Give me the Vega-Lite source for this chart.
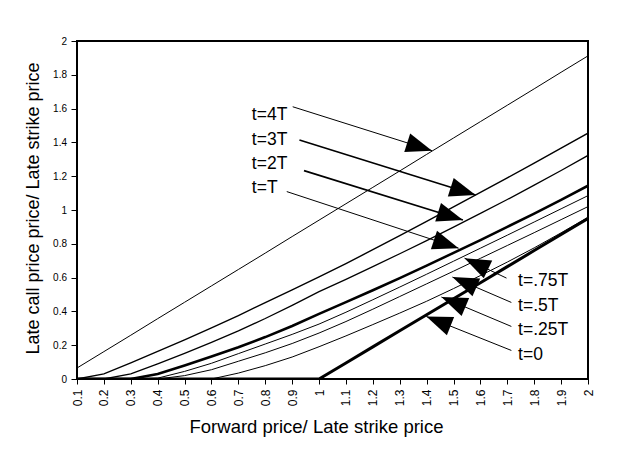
{
  "$schema": "https://vega.github.io/schema/vega-lite/v6.json",
  "width": 511,
  "height": 338,
  "autosize": {"type": "none"},
  "padding": {"left": 77, "top": 41, "right": 48, "bottom": 77},
  "background": "white",
  "config": {
    "view": {"stroke": "#000", "strokeWidth": 2},
    "font": "Liberation Sans",
    "axis": {"labelColor": "#000", "tickColor": "#000", "titleColor": "#000", "titleFontWeight": "normal", "grid": false, "domain": false, "labelFont": "Liberation Sans", "titleFont": "Liberation Sans"}
  },
  "datasets": {
    "curves": [
      {"s":"t=4T","x":0.1,"y":0.065},{"s":"t=4T","x":0.2,"y":0.162},{"s":"t=4T","x":0.3,"y":0.259},{"s":"t=4T","x":0.4,"y":0.357},{"s":"t=4T","x":0.5,"y":0.454},{"s":"t=4T","x":0.6,"y":0.551},{"s":"t=4T","x":0.7,"y":0.648},{"s":"t=4T","x":0.8,"y":0.745},{"s":"t=4T","x":0.9,"y":0.843},{"s":"t=4T","x":1.0,"y":0.94},{"s":"t=4T","x":1.1,"y":1.037},{"s":"t=4T","x":1.2,"y":1.134},{"s":"t=4T","x":1.3,"y":1.231},{"s":"t=4T","x":1.4,"y":1.329},{"s":"t=4T","x":1.5,"y":1.426},{"s":"t=4T","x":1.6,"y":1.523},{"s":"t=4T","x":1.7,"y":1.62},{"s":"t=4T","x":1.8,"y":1.717},{"s":"t=4T","x":1.9,"y":1.815},{"s":"t=4T","x":2.0,"y":1.912},
      {"s":"t=3T","x":0.1,"y":0},{"s":"t=3T","x":0.2,"y":0.03},{"s":"t=3T","x":0.3,"y":0.095},{"s":"t=3T","x":0.4,"y":0.163},{"s":"t=3T","x":0.5,"y":0.232},{"s":"t=3T","x":0.6,"y":0.303},{"s":"t=3T","x":0.7,"y":0.375},{"s":"t=3T","x":0.8,"y":0.452},{"s":"t=3T","x":0.9,"y":0.527},{"s":"t=3T","x":1.0,"y":0.604},{"s":"t=3T","x":1.1,"y":0.683},{"s":"t=3T","x":1.2,"y":0.765},{"s":"t=3T","x":1.3,"y":0.849},{"s":"t=3T","x":1.4,"y":0.933},{"s":"t=3T","x":1.5,"y":1.018},{"s":"t=3T","x":1.6,"y":1.104},{"s":"t=3T","x":1.7,"y":1.19},{"s":"t=3T","x":1.8,"y":1.277},{"s":"t=3T","x":1.9,"y":1.366},{"s":"t=3T","x":2.0,"y":1.455},
      {"s":"t=2T","x":0.1,"y":0},{"s":"t=2T","x":0.2,"y":0},{"s":"t=2T","x":0.3,"y":0.03},{"s":"t=2T","x":0.4,"y":0.09},{"s":"t=2T","x":0.5,"y":0.152},{"s":"t=2T","x":0.6,"y":0.217},{"s":"t=2T","x":0.7,"y":0.285},{"s":"t=2T","x":0.8,"y":0.358},{"s":"t=2T","x":0.9,"y":0.436},{"s":"t=2T","x":1.0,"y":0.517},{"s":"t=2T","x":1.1,"y":0.59},{"s":"t=2T","x":1.2,"y":0.665},{"s":"t=2T","x":1.3,"y":0.741},{"s":"t=2T","x":1.4,"y":0.819},{"s":"t=2T","x":1.5,"y":0.899},{"s":"t=2T","x":1.6,"y":0.98},{"s":"t=2T","x":1.7,"y":1.062},{"s":"t=2T","x":1.8,"y":1.147},{"s":"t=2T","x":1.9,"y":1.234},{"s":"t=2T","x":2.0,"y":1.323},
      {"s":"t=T","x":0.1,"y":0},{"s":"t=T","x":0.2,"y":0},{"s":"t=T","x":0.3,"y":0},{"s":"t=T","x":0.4,"y":0.03},{"s":"t=T","x":0.5,"y":0.08},{"s":"t=T","x":0.6,"y":0.133},{"s":"t=T","x":0.7,"y":0.188},{"s":"t=T","x":0.8,"y":0.248},{"s":"t=T","x":0.9,"y":0.314},{"s":"t=T","x":1.0,"y":0.385},{"s":"t=T","x":1.1,"y":0.455},{"s":"t=T","x":1.2,"y":0.525},{"s":"t=T","x":1.3,"y":0.597},{"s":"t=T","x":1.4,"y":0.671},{"s":"t=T","x":1.5,"y":0.746},{"s":"t=T","x":1.6,"y":0.822},{"s":"t=T","x":1.7,"y":0.9},{"s":"t=T","x":1.8,"y":0.979},{"s":"t=T","x":1.9,"y":1.06},{"s":"t=T","x":2.0,"y":1.144},
      {"s":"t=.75T","x":0.1,"y":0},{"s":"t=.75T","x":0.2,"y":0},{"s":"t=.75T","x":0.3,"y":0},{"s":"t=.75T","x":0.4,"y":0.005},{"s":"t=.75T","x":0.5,"y":0.045},{"s":"t=.75T","x":0.6,"y":0.093},{"s":"t=.75T","x":0.7,"y":0.15},{"s":"t=.75T","x":0.8,"y":0.207},{"s":"t=.75T","x":0.9,"y":0.264},{"s":"t=.75T","x":1.0,"y":0.325},{"s":"t=.75T","x":1.1,"y":0.395},{"s":"t=.75T","x":1.2,"y":0.469},{"s":"t=.75T","x":1.3,"y":0.544},{"s":"t=.75T","x":1.4,"y":0.62},{"s":"t=.75T","x":1.5,"y":0.697},{"s":"t=.75T","x":1.6,"y":0.774},{"s":"t=.75T","x":1.7,"y":0.851},{"s":"t=.75T","x":1.8,"y":0.929},{"s":"t=.75T","x":1.9,"y":1.007},{"s":"t=.75T","x":2.0,"y":1.085},
      {"s":"t=.5T","x":0.1,"y":0},{"s":"t=.5T","x":0.2,"y":0},{"s":"t=.5T","x":0.3,"y":0},{"s":"t=.5T","x":0.4,"y":0},{"s":"t=.5T","x":0.5,"y":0.02},{"s":"t=.5T","x":0.6,"y":0.055},{"s":"t=.5T","x":0.7,"y":0.105},{"s":"t=.5T","x":0.8,"y":0.155},{"s":"t=.5T","x":0.9,"y":0.21},{"s":"t=.5T","x":1.0,"y":0.272},{"s":"t=.5T","x":1.1,"y":0.34},{"s":"t=.5T","x":1.2,"y":0.413},{"s":"t=.5T","x":1.3,"y":0.488},{"s":"t=.5T","x":1.4,"y":0.563},{"s":"t=.5T","x":1.5,"y":0.638},{"s":"t=.5T","x":1.6,"y":0.714},{"s":"t=.5T","x":1.7,"y":0.79},{"s":"t=.5T","x":1.8,"y":0.866},{"s":"t=.5T","x":1.9,"y":0.943},{"s":"t=.5T","x":2.0,"y":1.02},
      {"s":"t=.25T","x":0.1,"y":0},{"s":"t=.25T","x":0.2,"y":0},{"s":"t=.25T","x":0.3,"y":0},{"s":"t=.25T","x":0.4,"y":0},{"s":"t=.25T","x":0.5,"y":0},{"s":"t=.25T","x":0.6,"y":0},{"s":"t=.25T","x":0.7,"y":0.035},{"s":"t=.25T","x":0.8,"y":0.079},{"s":"t=.25T","x":0.9,"y":0.13},{"s":"t=.25T","x":1.0,"y":0.191},{"s":"t=.25T","x":1.1,"y":0.255},{"s":"t=.25T","x":1.2,"y":0.322},{"s":"t=.25T","x":1.3,"y":0.39},{"s":"t=.25T","x":1.4,"y":0.46},{"s":"t=.25T","x":1.5,"y":0.535},{"s":"t=.25T","x":1.6,"y":0.612},{"s":"t=.25T","x":1.7,"y":0.692},{"s":"t=.25T","x":1.8,"y":0.776},{"s":"t=.25T","x":1.9,"y":0.865},{"s":"t=.25T","x":2.0,"y":0.957},
      {"s":"t=0","x":0.1,"y":0},{"s":"t=0","x":0.2,"y":0},{"s":"t=0","x":0.3,"y":0},{"s":"t=0","x":0.4,"y":0},{"s":"t=0","x":0.5,"y":0},{"s":"t=0","x":0.6,"y":0},{"s":"t=0","x":0.7,"y":0},{"s":"t=0","x":0.8,"y":0},{"s":"t=0","x":0.9,"y":0},{"s":"t=0","x":1.0,"y":0},{"s":"t=0","x":1.1,"y":0.095},{"s":"t=0","x":1.2,"y":0.19},{"s":"t=0","x":1.3,"y":0.285},{"s":"t=0","x":1.4,"y":0.38},{"s":"t=0","x":1.5,"y":0.475},{"s":"t=0","x":1.6,"y":0.57},{"s":"t=0","x":1.7,"y":0.665},{"s":"t=0","x":1.8,"y":0.76},{"s":"t=0","x":1.9,"y":0.855},{"s":"t=0","x":2.0,"y":0.95}
    ],
    "arrows": [
      {"label":"t=4T","part":"start","x":0.902,"y":1.611},{"label":"t=4T","part":"tip","x":1.42,"y":1.351},
      {"label":"t=3T","part":"start","x":0.927,"y":1.414},{"label":"t=3T","part":"tip","x":1.582,"y":1.089},
      {"label":"t=2T","part":"start","x":0.944,"y":1.233},{"label":"t=2T","part":"tip","x":1.535,"y":0.941},
      {"label":"t=T","part":"start","x":0.88,"y":1.109},{"label":"t=T","part":"tip","x":1.519,"y":0.774},
      {"label":"t=.75T","part":"start","x":1.697,"y":0.597},{"label":"t=.75T","part":"tip","x":1.541,"y":0.715},
      {"label":"t=.5T","part":"start","x":1.715,"y":0.453},{"label":"t=.5T","part":"tip","x":1.496,"y":0.603},
      {"label":"t=.25T","part":"start","x":1.715,"y":0.311},{"label":"t=.25T","part":"tip","x":1.455,"y":0.485},
      {"label":"t=0","part":"start","x":1.715,"y":0.169},{"label":"t=0","part":"tip","x":1.399,"y":0.37}
    ],
    "labels": [
      {"label":"t=4T","x":0.75,"y":1.562},
      {"label":"t=3T","x":0.75,"y":1.414},
      {"label":"t=2T","x":0.75,"y":1.273},
      {"label":"t=T","x":0.75,"y":1.129},
      {"label":"t=.75T","x":1.74,"y":0.577},
      {"label":"t=.5T","x":1.74,"y":0.433},
      {"label":"t=.25T","x":1.74,"y":0.291},
      {"label":"t=0","x":1.74,"y":0.144}
    ]
  },
  "resolve": {"scale": {"strokeWidth": "independent"}},
  "layer": [
    {
      "data": {"name": "curves"},
      "mark": {"type": "line", "color": "#000", "interpolate": "linear", "clip": true},
      "encoding": {
        "x": {
          "field": "x", "type": "quantitative",
          "scale": {"domain": [0.1, 2], "nice": false, "zero": false},
          "axis": {
            "values": [0.1,0.2,0.3,0.4,0.5,0.6,0.7,0.8,0.9,1,1.1,1.2,1.3,1.4,1.5,1.6,1.7,1.8,1.9,2],
            "tickCount": 40,
            "format": ".1~f", "labelAngle": -90, "labelFontSize": 12, "labelPadding": 5, "tickSize": 5,
            "labelOverlap": false, "labelFlush": false,
            "title": "Forward price/ Late strike price", "titleFontSize": 18.5,
            "titleX": 239, "titleY": 53, "titleAlign": "center", "titleBaseline": "alphabetic"
          }
        },
        "y": {
          "field": "y", "type": "quantitative",
          "scale": {"domain": [0, 2], "nice": false},
          "axis": {
            "values": [0,0.2,0.4,0.6,0.8,1,1.2,1.4,1.6,1.8,2],
            "tickCount": 40,
            "format": ".1~f", "labelFontSize": 10, "labelPadding": 4.5, "tickSize": 6,
            "labelOverlap": false, "labelFlush": false,
            "title": "Late call price price/ Late strike price", "titleFontSize": 18,
            "titleX": -39, "titleY": 167, "titleAngle": -90, "titleAlign": "center", "titleBaseline": "alphabetic"
          }
        },
        "detail": {"field": "s", "type": "nominal"},
        "strokeWidth": {
          "field": "s", "type": "nominal",
          "scale": {"type": "ordinal", "domain": ["t=4T","t=3T","t=2T","t=T","t=.75T","t=.5T","t=.25T","t=0"], "range": [1, 1.4, 1.3, 2.6, 1, 1, 1, 3]},
          "legend": null
        }
      }
    },
    {
      "data": {"name": "arrows"},
      "mark": {"type": "line", "color": "#000"},
      "encoding": {
        "x": {"field": "x", "type": "quantitative"},
        "y": {"field": "y", "type": "quantitative"},
        "detail": {"field": "label", "type": "nominal"},
        "strokeWidth": {
          "field": "label", "type": "nominal",
          "scale": {"type": "ordinal", "domain": ["t=4T","t=3T","t=2T","t=T","t=.75T","t=.5T","t=.25T","t=0"], "range": [1, 1.6, 1.6, 1, 1, 1, 1, 1]},
          "legend": null
        }
      }
    },
    {
      "data": {"name": "arrows"},
      "transform": [{"filter": "datum.part === 'tip'"}],
      "mark": {"type": "point", "shape": "M0,0L-2,-0.75L-2,0.75Z", "filled": true, "color": "#000", "opacity": 1, "size": 676, "strokeWidth": 0},
      "encoding": {
        "x": {"field": "x", "type": "quantitative"},
        "y": {"field": "y", "type": "quantitative"},
        "angle": {
          "field": "label", "type": "nominal",
          "scale": {"type": "ordinal", "domain": ["t=4T","t=3T","t=2T","t=T","t=.75T","t=.5T","t=.25T","t=0"], "range": [17.6, 17.4, 17.3, 18.3, 205.6, 203.3, 202.8, 201.8]},
          "legend": null
        }
      }
    },
    {
      "data": {"name": "labels"},
      "mark": {"type": "text", "align": "left", "baseline": "middle", "fontSize": 17.5, "color": "#000", "font": "Liberation Sans"},
      "encoding": {
        "x": {"field": "x", "type": "quantitative"},
        "y": {"field": "y", "type": "quantitative"},
        "text": {"field": "label", "type": "nominal"}
      }
    }
  ]
}
